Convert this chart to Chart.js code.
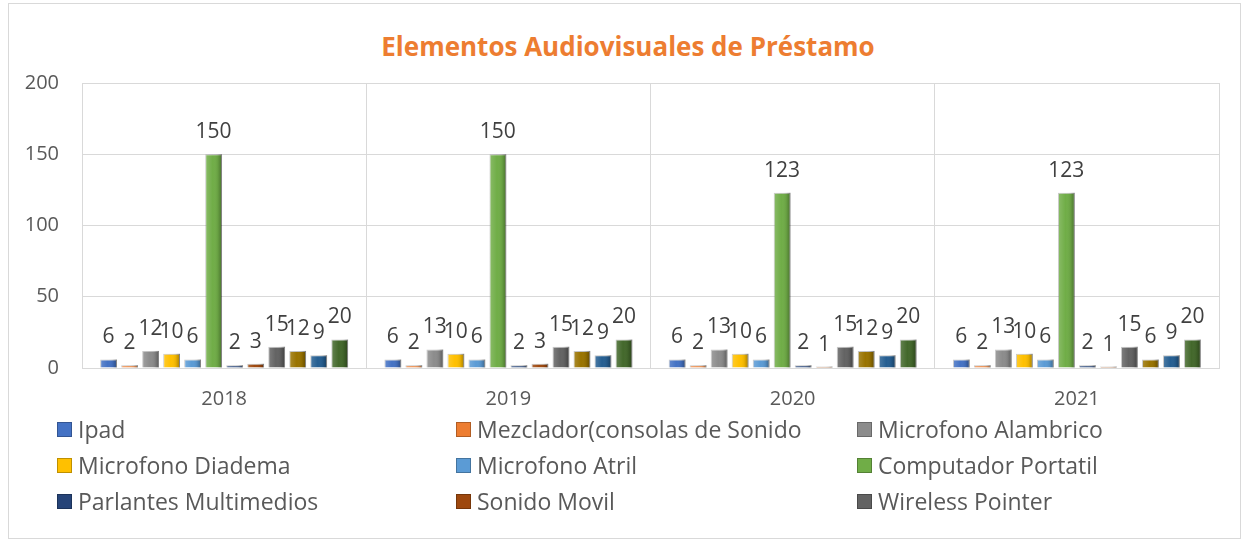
<!DOCTYPE html>
<html lang="es">
<head>
<meta charset="UTF-8">
<title>Elementos Audiovisuales de Préstamo</title>
<script src="https://cdn.jsdelivr.net/npm/chart.js@4.4.1/dist/chart.umd.min.js"></script>
<style>
  html, body { margin: 0; padding: 0; background: #fff; }
  body { width: 1246px; height: 541px; position: relative; overflow: hidden; font-family: "Open Sans", "Noto Sans", sans-serif; }
  #frame { position: absolute; left: 8px; top: 3px; width: 1231px; height: 534px; border: 1px solid #d9d9d9; }
  #wrap { position: absolute; left: 0; top: 0; width: 1246px; height: 541px; }
  #title { position: absolute; left: 0; width: 1256px; top: 28px; text-align: center; color: #ED7D31; font-weight: bold; font-size: 26px; }
  #legend { position: absolute; left: 0; top: 0; width: 1246px; height: 541px; pointer-events: none; }
  .item { position: absolute; display: flex; align-items: center; height: 30px; color: #595959; font-size: 23px; white-space: nowrap; }
  .item i { display: inline-block; width: 15px; height: 15px; margin-right: 6px; box-sizing: border-box; }
</style>
</head>
<body>
<div id="frame"></div>
<div id="title">Elementos Audiovisuales de Préstamo</div>
<div id="wrap"><canvas id="chart" width="1246" height="541"></canvas></div>
<div id="legend"></div>
<script>
// Categories and series
const years = ['2018', '2019', '2020', '2021'];
const seriesNames = [
  'Ipad', 'Mezclador(consolas de Sonido', 'Microfono Alambrico',
  'Microfono Diadema', 'Microfono Atril', 'Computador Portatil',
  'Parlantes Multimedios', 'Sonido Movil', 'Wireless Pointer',
  'Serie 10', 'Serie 11', 'Serie 12'
];
const ipad        = [6, 6, 6, 6];
const mezclador   = [2, 2, 2, 2];
const alambrico   = [12, 13, 13, 13];
const diadema     = [10, 10, 10, 10];
const atril       = [6, 6, 6, 6];
const portatil    = [150, 150, 123, 123];
const parlantes   = [2, 2, 2, 2];
const sonidoMovil = [3, 3, 1, 1];
const wireless    = [15, 15, 15, 15];
const serie10     = [12, 12, 12, 6];
const serie11     = [9, 9, 9, 9];
const serie12     = [20, 20, 20, 20];
const yTicks = [0, 50, 100, 150, 200];
const legendShown = 9;

const allValues = [ipad, mezclador, alambrico, diadema, atril, portatil,
  parlantes, sonidoMovil, wireless, serie10, serie11, serie12];
const colors = ['#4472C4', '#ED7D31', '#8C8C8C', '#FFC000', '#5B9BD5', '#70AD47',
  '#264478', '#9E480E', '#636363', '#997300', '#255E91', '#43682B'];

// Data labels above bars
const valueLabels = {
  id: 'valueLabels',
  afterDatasetsDraw(chart) {
    const ctx = chart.ctx;
    ctx.save();
    ctx.font = '21px "Open Sans", sans-serif';
    ctx.fillStyle = '#404040';
    ctx.textAlign = 'center';
    ctx.textBaseline = 'middle';
    chart.data.datasets.forEach((ds, i) => {
      chart.getDatasetMeta(i).data.forEach((bar, j) => {
        ctx.fillText(String(ds.data[j]), bar.x, bar.y - 22);
      });
    });
    ctx.restore();
  }
};

// Soft bevel shading on the bars
const barShade = {
  id: 'barShade',
  afterDatasetDraw(chart, args) {
    const ctx = chart.ctx;
    ctx.save();
    args.meta.data.forEach(bar => {
      const w = bar.width, l = bar.x - w / 2, t = bar.y, h = bar.base - bar.y;
      const g = ctx.createLinearGradient(l, 0, l + w, 0);
      g.addColorStop(0, 'rgba(255,255,255,0.18)');
      g.addColorStop(0.45, 'rgba(255,255,255,0)');
      g.addColorStop(0.75, 'rgba(0,0,0,0.08)');
      g.addColorStop(1, 'rgba(0,0,0,0.35)');
      ctx.fillStyle = g;
      ctx.fillRect(l, t, w, h);
    });
    ctx.restore();
  }
};

new Chart(document.getElementById('chart'), {
  type: 'bar',
  data: {
    labels: years,
    datasets: allValues.map((vals, i) => ({
      label: seriesNames[i],
      data: vals,
      backgroundColor: colors[i],
      borderColor: 'rgba(0,0,0,0.25)',
      borderWidth: 1,
      categoryPercentage: 0.887,
      barPercentage: 0.8
    }))
  },
  options: {
    responsive: false,
    animation: false,
    layout: { padding: { left: 0, right: 27, top: 83, bottom: 123 } },
    plugins: { legend: { display: false }, title: { display: false }, tooltip: { enabled: false } },
    scales: {
      x: {
        grid: { color: '#d9d9d9', drawTicks: false, offset: true },
        border: { color: '#d9d9d9' },
        ticks: { color: '#595959', font: { size: 20, family: '"Open Sans", sans-serif' }, padding: 19 },
        afterFit: s => { s.height = 50; }
      },
      y: {
        min: 0, max: 200,
        afterBuildTicks: s => { s.ticks = yTicks.map(v => ({ value: v })); },
        grid: { color: '#d9d9d9', drawTicks: false },
        border: { color: '#d9d9d9' },
        ticks: { color: '#595959', font: { size: 20, family: '"Open Sans", sans-serif' }, padding: 23 },
        afterFit: s => { s.width = 82; }
      }
    }
  },
  plugins: [barShade, valueLabels]
});

// Legend in three columns (only the first nine series, as in the picture)
const legend = document.getElementById('legend');
const colX = [57, 456, 857];
const rowY = [414, 450, 486];
seriesNames.slice(0, legendShown).forEach((name, i) => {
  const el = document.createElement('div');
  el.className = 'item';
  el.style.left = colX[i % 3] + 'px';
  el.style.top = rowY[Math.floor(i / 3)] + 'px';
  el.innerHTML = '<i style="background:' + colors[i] + ';border:1px solid rgba(0,0,0,0.25)"></i>' + name;
  legend.appendChild(el);
});
</script>
</body>
</html>
